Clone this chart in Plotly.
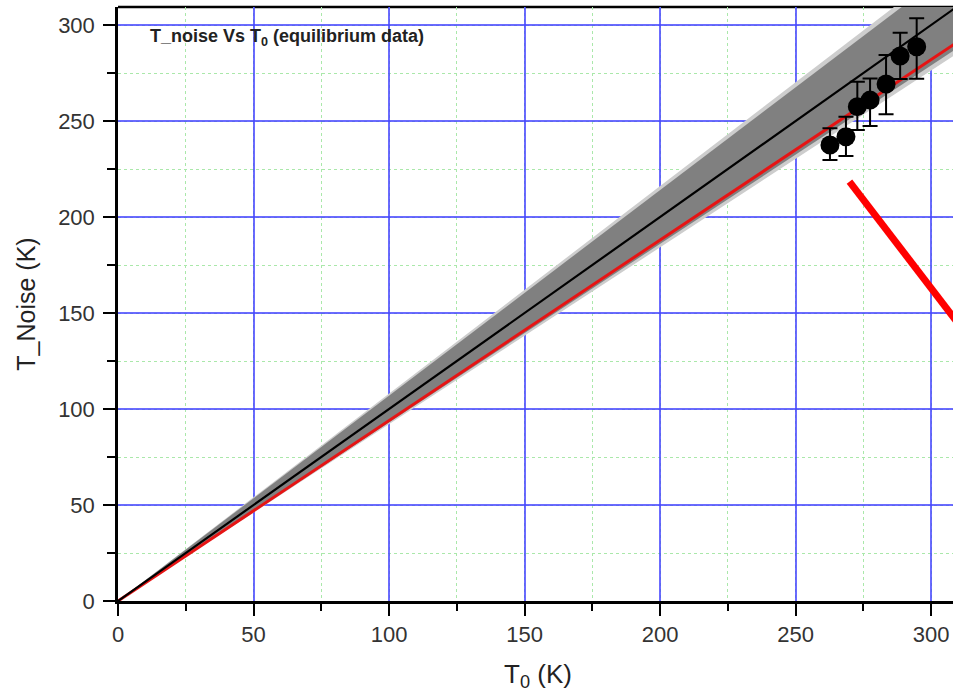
import plotly.graph_objects as go

# ---- data ----
band_x = [0, 310]
band_upper = [0, 331.7]
band_lower = [0, 288.3]
fringe_upper = [0, 335.0]
fringe_lower = [0, 285.5]

line_x = [0, 310]
ideal_y = [0, 310]          # black line (T_noise = T0)
fit_y = [0, 291.4]          # red line

pts_x = [262.7, 268.6, 272.8, 277.5, 283.4, 288.6, 294.7]
pts_y = [237.5, 241.8, 257.5, 260.9, 269.3, 283.9, 288.7]
err_plus = [8.7, 10.4, 13.0, 11.3, 15.1, 12.1, 14.8]
err_minus = [7.8, 10.0, 12.2, 13.5, 15.7, 12.0, 16.7]

pointer_x = [269.9, 319.2]
pointer_y = [218.4, 127.7]

x_ticks = [0, 50, 100, 150, 200, 250, 300]
y_ticks = [0, 50, 100, 150, 200, 250, 300]

fig = go.Figure()

# outer light fringe of the confidence band
fig.add_trace(go.Scatter(x=band_x, y=fringe_lower, mode="lines", line=dict(width=0),
                         hoverinfo="skip", showlegend=False))
fig.add_trace(go.Scatter(x=band_x, y=fringe_upper, mode="lines", line=dict(width=0),
                         fill="tonexty", fillcolor="rgb(205,205,205)",
                         hoverinfo="skip", showlegend=False))
# inner gray band
fig.add_trace(go.Scatter(x=band_x, y=band_lower, mode="lines", line=dict(width=0),
                         hoverinfo="skip", showlegend=False))
fig.add_trace(go.Scatter(x=band_x, y=band_upper, mode="lines", line=dict(width=0),
                         fill="tonexty", fillcolor="rgb(128,128,128)",
                         hoverinfo="skip", showlegend=False))

# red fit line
fig.add_trace(go.Scatter(x=line_x, y=fit_y, mode="lines",
                         line=dict(color="rgb(230,20,20)", width=3), showlegend=False))
# black ideal line
fig.add_trace(go.Scatter(x=line_x, y=ideal_y, mode="lines",
                         line=dict(color="black", width=2.2), showlegend=False))

# data points with error bars
fig.add_trace(go.Scatter(
    x=pts_x, y=pts_y, mode="markers",
    marker=dict(symbol="circle", size=19, color="black"),
    error_y=dict(type="data", symmetric=False, array=err_plus, arrayminus=err_minus,
                 color="black", thickness=2, width=7.5),
    showlegend=False))

# red pointer stroke
fig.add_trace(go.Scatter(x=pointer_x, y=pointer_y, mode="lines",
                         line=dict(color="rgb(255,0,0)", width=7), showlegend=False))

fig.update_layout(
    width=953, height=688,
    margin=dict(l=118, r=0, t=7, b=87),
    paper_bgcolor="white", plot_bgcolor="white",
    font=dict(family="Liberation Sans, Arial, sans-serif", color="#333"),
    xaxis=dict(
        range=[0, 308.1], tickvals=x_ticks, ticks="outside", ticklen=12, tickwidth=2,
        tickcolor="black", showline=True, linecolor="black", linewidth=2.5,
        showgrid=True, gridcolor="rgba(70,70,255,0.8)", gridwidth=1.5,
        zeroline=False, tickfont=dict(size=22, color="#333"), automargin=False,
        minor=dict(dtick=25, ticks="outside", ticklen=7, tickwidth=2, tickcolor="black",
                   showgrid=True, gridcolor="rgb(170,232,170)", griddash="dot", gridwidth=1),
    ),
    yaxis=dict(
        range=[0, 309.4], tickvals=y_ticks, ticks="outside", ticklen=12, tickwidth=2,
        tickcolor="black", showline=True, linecolor="black", linewidth=2.5,
        showgrid=True, gridcolor="rgba(70,70,255,0.8)", gridwidth=1.5,
        zeroline=False, tickfont=dict(size=22, color="#333"), ticklabelstandoff=4,
        automargin=False,
        minor=dict(dtick=25, ticks="outside", ticklen=8, tickwidth=2, tickcolor="black",
                   showgrid=True, gridcolor="rgb(170,232,170)", griddash="dot", gridwidth=1),
        title=dict(text="T_Noise (K)", font=dict(size=25, color="#222"), standoff=16),
    ),
    shapes=[dict(type="line", xref="paper", yref="paper", x0=0, x1=1, y0=1, y1=1,
                 line=dict(color="black", width=2.5), layer="below")],
    annotations=[
        dict(text="<b>T_noise Vs T<sub>0</sub> (equilibrium data)</b>",
             xref="paper", yref="paper", x=30 / 835, y=1 - 30 / 594,
             xanchor="left", yanchor="middle", showarrow=False,
             font=dict(size=18, color="#222")),
        dict(text="T<sub>0</sub> (K)", xref="paper", yref="paper",
             x=(538 - 118) / 835, y=-(657 - 601) / 594,
             xanchor="center", yanchor="top", showarrow=False,
             font=dict(size=26, color="#222")),
    ],
)

fig.write_html("out.html", config={"displayModeBar": False},
               post_script="document.body.style.margin='0';document.body.style.overflow='hidden';")
